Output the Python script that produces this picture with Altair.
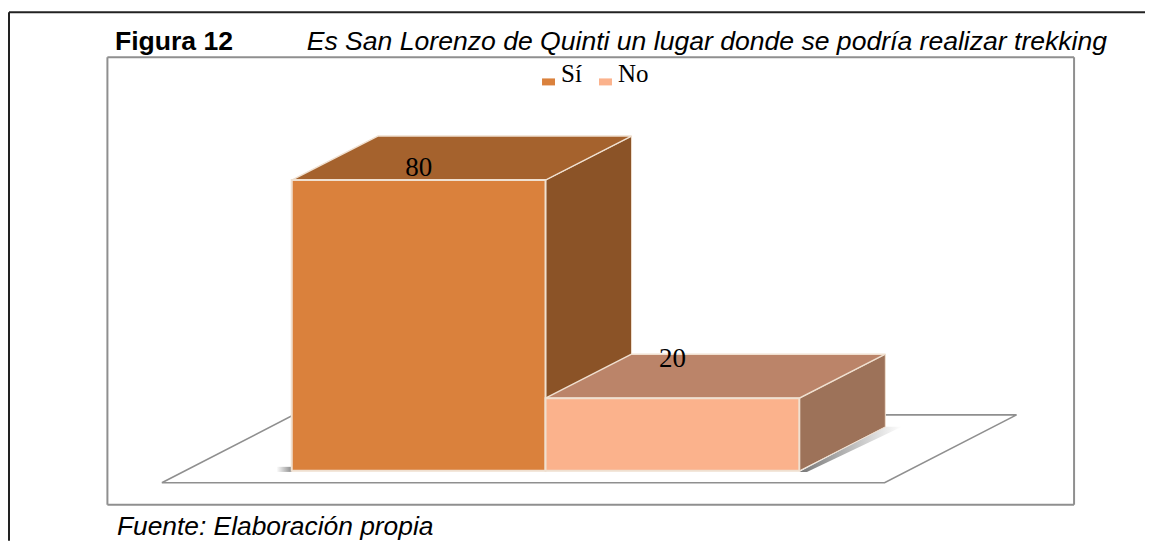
import altair as alt
import pandas as pd

# Chart values
categories = ["Sí", "No"]
values = [80, 20]
label_heights = [83.2, 30.7]
front_colors = ["#da813c", "#fbb28c"]
top_colors = ["#a5622d", "#bb8469"]
side_colors = ["#8b5327", "#9d7259"]
edge = "#f0e0d0"
grey = "#8f8f8f"

# Oblique projection of the bars in value / category units
depth_x = 0.339
depth_y = 12.1
gap_left = [0, 1]

W, H = 1138, 533
# image px -> units: x=292 is 0, 254 px per unit; y=471 is 0, 3.6375 px per unit
x_scale = alt.Scale(domain=[(8 - 292) / 254, (8 + W - 292) / 254], range=[0, W], nice=False, zero=False)
y_scale = alt.Scale(domain=[(471 - 8 - H) / 3.6375, (471 - 8) / 3.6375], range=[H, 0], nice=False, zero=False)
X = lambda f: alt.X(f, type="quantitative", scale=x_scale, axis=None)
Y = lambda f: alt.Y(f, type="quantitative", scale=y_scale, axis=None)


def px(v):
    return alt.value(v - 8)


def rule(x1, y1, x2, y2, color, w):
    return alt.Chart(pd.DataFrame({"a": [0]})).mark_rule(color=color, strokeWidth=w).encode(
        x=px(x1), x2=px(x2), y=px(y1), y2=px(y2))


def text(s, x, y, size, style="normal", weight="normal", font="Liberation Sans"):
    return alt.Chart(pd.DataFrame({"t": [s]})).mark_text(
        align="left", baseline="alphabetic", fontSize=size, fontStyle=style, fontWeight=weight, font=font, color="#000"
    ).encode(x=px(x), y=px(y), text="t:N")


floor_x = [-0.512, 2.856]
floor_y = [-3.3, 15.4]
floor = alt.Chart(pd.DataFrame({
    "x": [floor_x[0], floor_x[1] - 0.52, floor_x[1], floor_x[0] + 0.52, floor_x[0]],
    "y": [floor_y[0], floor_y[0], floor_y[1], floor_y[1], floor_y[0]],
    "o": [0, 1, 2, 3, 4]})).mark_line(color=grey, strokeWidth=1.6).encode(x=X("x"), y=Y("y"), order="o:Q")

shadow_grad = alt.Gradient(gradient="linear", x1=0, x2=1, y1=0, y2=0,
                           stops=[alt.GradientStop(color="#777777", offset=0), alt.GradientStop(color="#ffffff", offset=1)])
shadow_right = alt.Chart(pd.DataFrame({
    "y": [-0.3, depth_y], "x": [2, 2 + depth_x], "x2": [2.03, 2 + depth_x + 0.065]})).mark_area(
    orient="horizontal", fill=shadow_grad).encode(x=X("x"), x2="x2", y=Y("y"))
shadow_left = alt.Chart(pd.DataFrame({"x": [-0.06], "x2": [0], "y": [-0.3], "y2": [1.1]})).mark_rect(
    fill=alt.Gradient(gradient="linear", x1=0, x2=1, y1=0, y2=0,
                      stops=[alt.GradientStop(color="#ffffff", offset=0), alt.GradientStop(color="#8a8a8a", offset=1)])
).encode(x=X("x"), x2="x2", y=Y("y"), y2="y2")

layers = [floor, shadow_right, shadow_left]
for i, (c, v) in enumerate(zip(categories, values)):
    x0 = gap_left[i]
    side = pd.DataFrame({"x": [x0 + 1, x0 + 1 + depth_x], "y": [v, v + depth_y], "y2": [0, depth_y]})
    top = pd.DataFrame({"y": [v, v + depth_y], "x": [x0, x0 + depth_x], "x2": [x0 + 1, x0 + 1 + depth_x]})
    layers.append(alt.Chart(side).mark_area(orient="vertical", fill=side_colors[i], stroke=edge, strokeWidth=1).encode(
        x=X("x"), y=Y("y"), y2="y2"))
    layers.append(alt.Chart(top).mark_area(orient="horizontal", fill=top_colors[i], stroke=edge, strokeWidth=1.5).encode(
        y=Y("y"), x=X("x"), x2="x2"))

front = alt.Chart(pd.DataFrame({
    "cat": categories, "x": gap_left, "x2": [g + 1 for g in gap_left], "v": values, "b": [0, 0]
})).mark_rect(stroke=edge, strokeWidth=2).encode(
    x=X("x"), x2="x2", y=Y("v"), y2="b",
    color=alt.Color("cat:N", scale=alt.Scale(domain=categories, range=front_colors), legend=alt.Legend(
        title=None, orient="none", legendX=528.5, legendY=61, direction="horizontal",
        symbolType="M-1.3,-0.7H1.3V0.7H-1.3Z", symbolSize=100, symbolStrokeWidth=0,
        labelFont="Liberation Serif", labelFontSize=25,
        labelColor="#000", labelBaseline="alphabetic", labelOffset=0, columnPadding=11, symbolOpacity=1)),
)
layers.append(front)

labels = alt.Chart(pd.DataFrame({
    "x": [g + 0.5 for g in gap_left], "y": label_heights, "v": values
})).mark_text(font="Liberation Serif", fontSize=27, color="#000", baseline="middle").encode(
    x=X("x"), y=Y("y"), text="v:Q")
layers.append(labels)

decor = [
    rule(9, 12, 1146, 12, "#222222", 2),
    rule(9, 12, 9, 541, "#222222", 2),
    rule(107.5, 57, 1075, 57, grey, 2),
    rule(1075, 57, 1075, 505, grey, 2),
    rule(107.5, 505, 1075, 505, grey, 2),
    rule(107.5, 57, 107.5, 505, grey, 2),
    text("Figura 12", 115, 50, 26.6, weight="bold"),
    text("Es San Lorenzo de Quinti un lugar donde se podría realizar trekking", 307, 50, 26.6, style="italic"),
    text("Fuente: Elaboración propia", 117, 535.5, 26.4, style="italic"),
]

chart = alt.layer(*decor, *layers).properties(
    width=W, height=H, padding=0, background="white"
).configure_view(stroke=None)

chart.save("out.html", embed_options={"renderer": "svg", "actions": False})
